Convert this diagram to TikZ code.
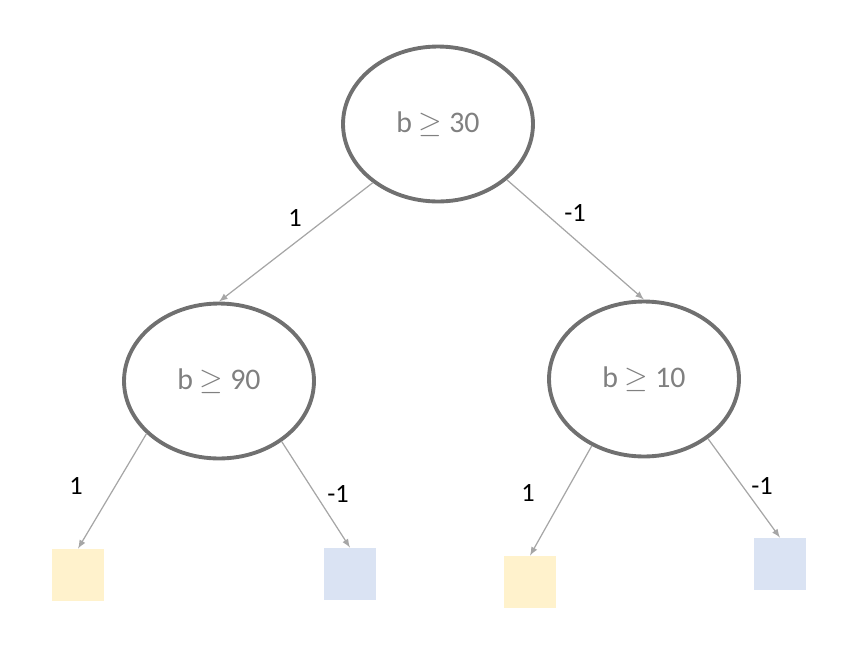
\documentclass[tikz,border=0pt]{standalone}
\usepackage{fontspec}
\setmainfont{Carlito}
\usetikzlibrary{shapes.geometric}
\definecolor{ringgray}{HTML}{707070}
\definecolor{textgray}{HTML}{808080}
\definecolor{edgegray}{HTML}{A6A6A6}
\definecolor{leafyellow}{HTML}{FFF2CC}
\definecolor{leafblue}{HTML}{DAE3F3}
\tikzset{
  test/.style={ellipse, draw=ringgray, line width=2.2pt, minimum width=3.8cm, minimum height=3.1cm, text=textgray, font=\fontsize{17}{20}\selectfont},
  leaf/.style={minimum size=1.04cm, inner sep=0pt},
  branch/.style={draw=edgegray, line width=0.7pt, -latex},
  lab/.style={font=\fontsize{15}{18}\selectfont}
}
\begin{document}
\begin{tikzpicture}[x=0.02cm, y=-0.02cm]
            \useasboundingbox (0,0) rectangle (866,650);

                \node[test] (top) at (438,124) {b $\geq$ 30};
                \node[test] (left) at (219,381) {b $\geq$ 90};
                \node[test] (right) at (644,379) {b $\geq$ 10};

                \node[leaf, fill=leafyellow] (ly) at (78,575) {};
                \node[leaf, fill=leafblue] (lb) at (350,574) {};
                \node[leaf, fill=leafyellow] (ry) at (530,582) {};
                \node[leaf, fill=leafblue] (rb) at (780,564) {};

                \draw[branch] (top.-138) -- (left.north);
                \draw[branch] (top.-39) -- (right.north);
                \draw[branch] (left.-144) -- (ly.north);
                \draw[branch] (left.-44) -- (lb.north);
                \draw[branch] (right.-128) -- (ry.north);
                \draw[branch] (right.-43) -- (rb.north);

                \node[lab] at (295,218) {1};
                \node[lab] at (575,213) {-1};
                \node[lab] at (76,486) {1};
                \node[lab] at (338,494) {-1};
                \node[lab] at (528,493) {1};
                \node[lab] at (762,486) {-1};

            \end{tikzpicture}
\end{document}
